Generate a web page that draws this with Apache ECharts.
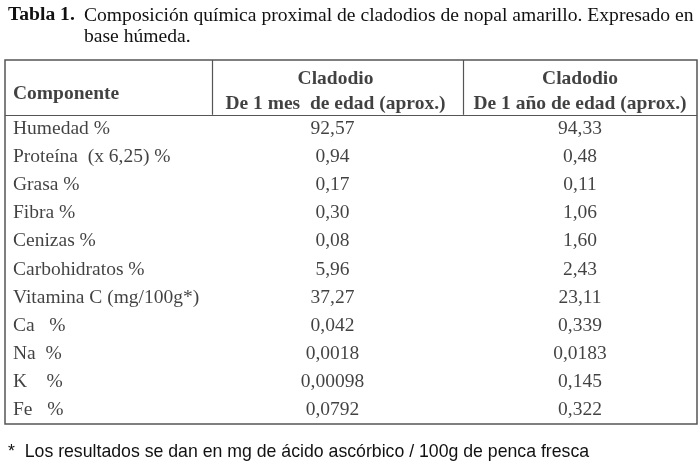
<!DOCTYPE html>
<html>
<head>
<meta charset="utf-8">
<script src="https://cdn.jsdelivr.net/npm/echarts@6/dist/echarts.min.js"></script>
<style>
  html, body { margin: 0; padding: 0; background: #fff; }
  #main { width: 700px; height: 461px; }
</style>
</head>
<body>
<div id="main"></div>
<script>
  // datos de la tabla
  var componentes = ['Humedad %', 'Proteína  (x 6,25) %', 'Grasa %', 'Fibra %', 'Cenizas %',
    'Carbohidratos %', 'Vitamina C (mg/100g*)', 'Ca   %', 'Na  %', 'K    %', 'Fe   %'];
  var unMes = ['92,57', '0,94', '0,17', '0,30', '0,08', '5,96', '37,27', '0,042', '0,0018', '0,00098', '0,0792'];
  var unAnio = ['94,33', '0,48', '0,11', '1,06', '1,60', '2,43', '23,11', '0,339', '0,0183', '0,145', '0,322'];
  var encabezado = ['Componente', 'Cladodio\nDe 1 mes  de edad (aprox.)', 'Cladodio\nDe 1 año de edad (aprox.)'];

  var serif = 'Liberation Serif';
  var colEdges = [0, 207, 458, 692];   // bordes de columna (unidades del eje x)
  var headRows = 1.95;                 // alto del encabezado en filas
  var lineColor = '#555';

  var myChart = echarts.init(document.getElementById('main'));

  var colMid = function (i) { return (colEdges[i] + colEdges[i + 1]) / 2; };

  var col1 = componentes.map(function (t, i) { return [8, headRows + i + 0.5, t]; });
  var col2 = unMes.map(function (t, i) { return [colMid(1) - 5, headRows + i + 0.5, t]; });
  var col3 = unAnio.map(function (t, i) { return [colMid(2), headRows + i + 0.5, t]; });
  var head1 = [[8, 1.2, encabezado[0]]];
  var head23 = [[colMid(1) - 2, 1.12, encabezado[1]], [colMid(2), 1.12, encabezado[2]]];

  function textSeries(data, align, bold, extra) {
    var s = {
      type: 'scatter',
      symbolSize: 0,
      silent: true,
      data: data,
      label: {
        show: true,
        position: 'inside',
        align: align,
        verticalAlign: 'middle',
        color: '#111',
        fontFamily: serif,
        fontSize: 19.5,
        fontWeight: bold ? 'bold' : 'normal',
        lineHeight: 25,
        formatter: function (p) { return p.value[2]; }
      }
    };
    if (extra) s.markLine = extra;
    return s;
  }

  var lineas = {
    silent: true,
    symbol: 'none',
    label: { show: false },
    lineStyle: { color: lineColor, width: 1.2, type: 'solid' },
    data: [
      { yAxis: headRows },
      [{ coord: [colEdges[1], 0] }, { coord: [colEdges[1], headRows] }],
      [{ coord: [colEdges[2], 0] }, { coord: [colEdges[2], headRows] }]
    ]
  };

  var option = {
    animation: false,
    title: [
      {
        text: 'Tabla 1.',
        left: 8, top: 5, padding: 0,
        textStyle: { fontFamily: serif, fontSize: 19.6, fontWeight: 'bold', color: '#111' }
      },
      {
        text: 'Composición química proximal de cladodios de nopal amarillo. Expresado en\nbase húmeda.',
        left: 84, top: 5, padding: 0,
        textStyle: { fontFamily: serif, fontSize: 19.6, fontWeight: 'normal', color: '#111', lineHeight: 21 }
      },
      {
        text: '*  Los resultados se dan en mg de ácido ascórbico / 100g de penca fresca',
        left: 8, top: 443, padding: 0,
        textStyle: { fontFamily: 'Liberation Sans', fontSize: 17.7, fontWeight: 'normal', color: '#111' }
      }
    ],
    grid: {
      left: 5, top: 60, width: 692, height: 364,
      show: true,
      borderColor: lineColor,
      borderWidth: 1.5,
      backgroundColor: '#fff'
    },
    xAxis: { type: 'value', min: 0, max: colEdges[3], show: false },
    yAxis: { type: 'value', min: 0, max: headRows + componentes.length, inverse: true, show: false },
    series: [
      textSeries(col1, 'left', false, lineas),
      textSeries(col2, 'center', false),
      textSeries(col3, 'center', false),
      textSeries(head1, 'left', true),
      textSeries(head23, 'center', true)
    ]
  };
  myChart.setOption(option);
</script>
</body>
</html>
